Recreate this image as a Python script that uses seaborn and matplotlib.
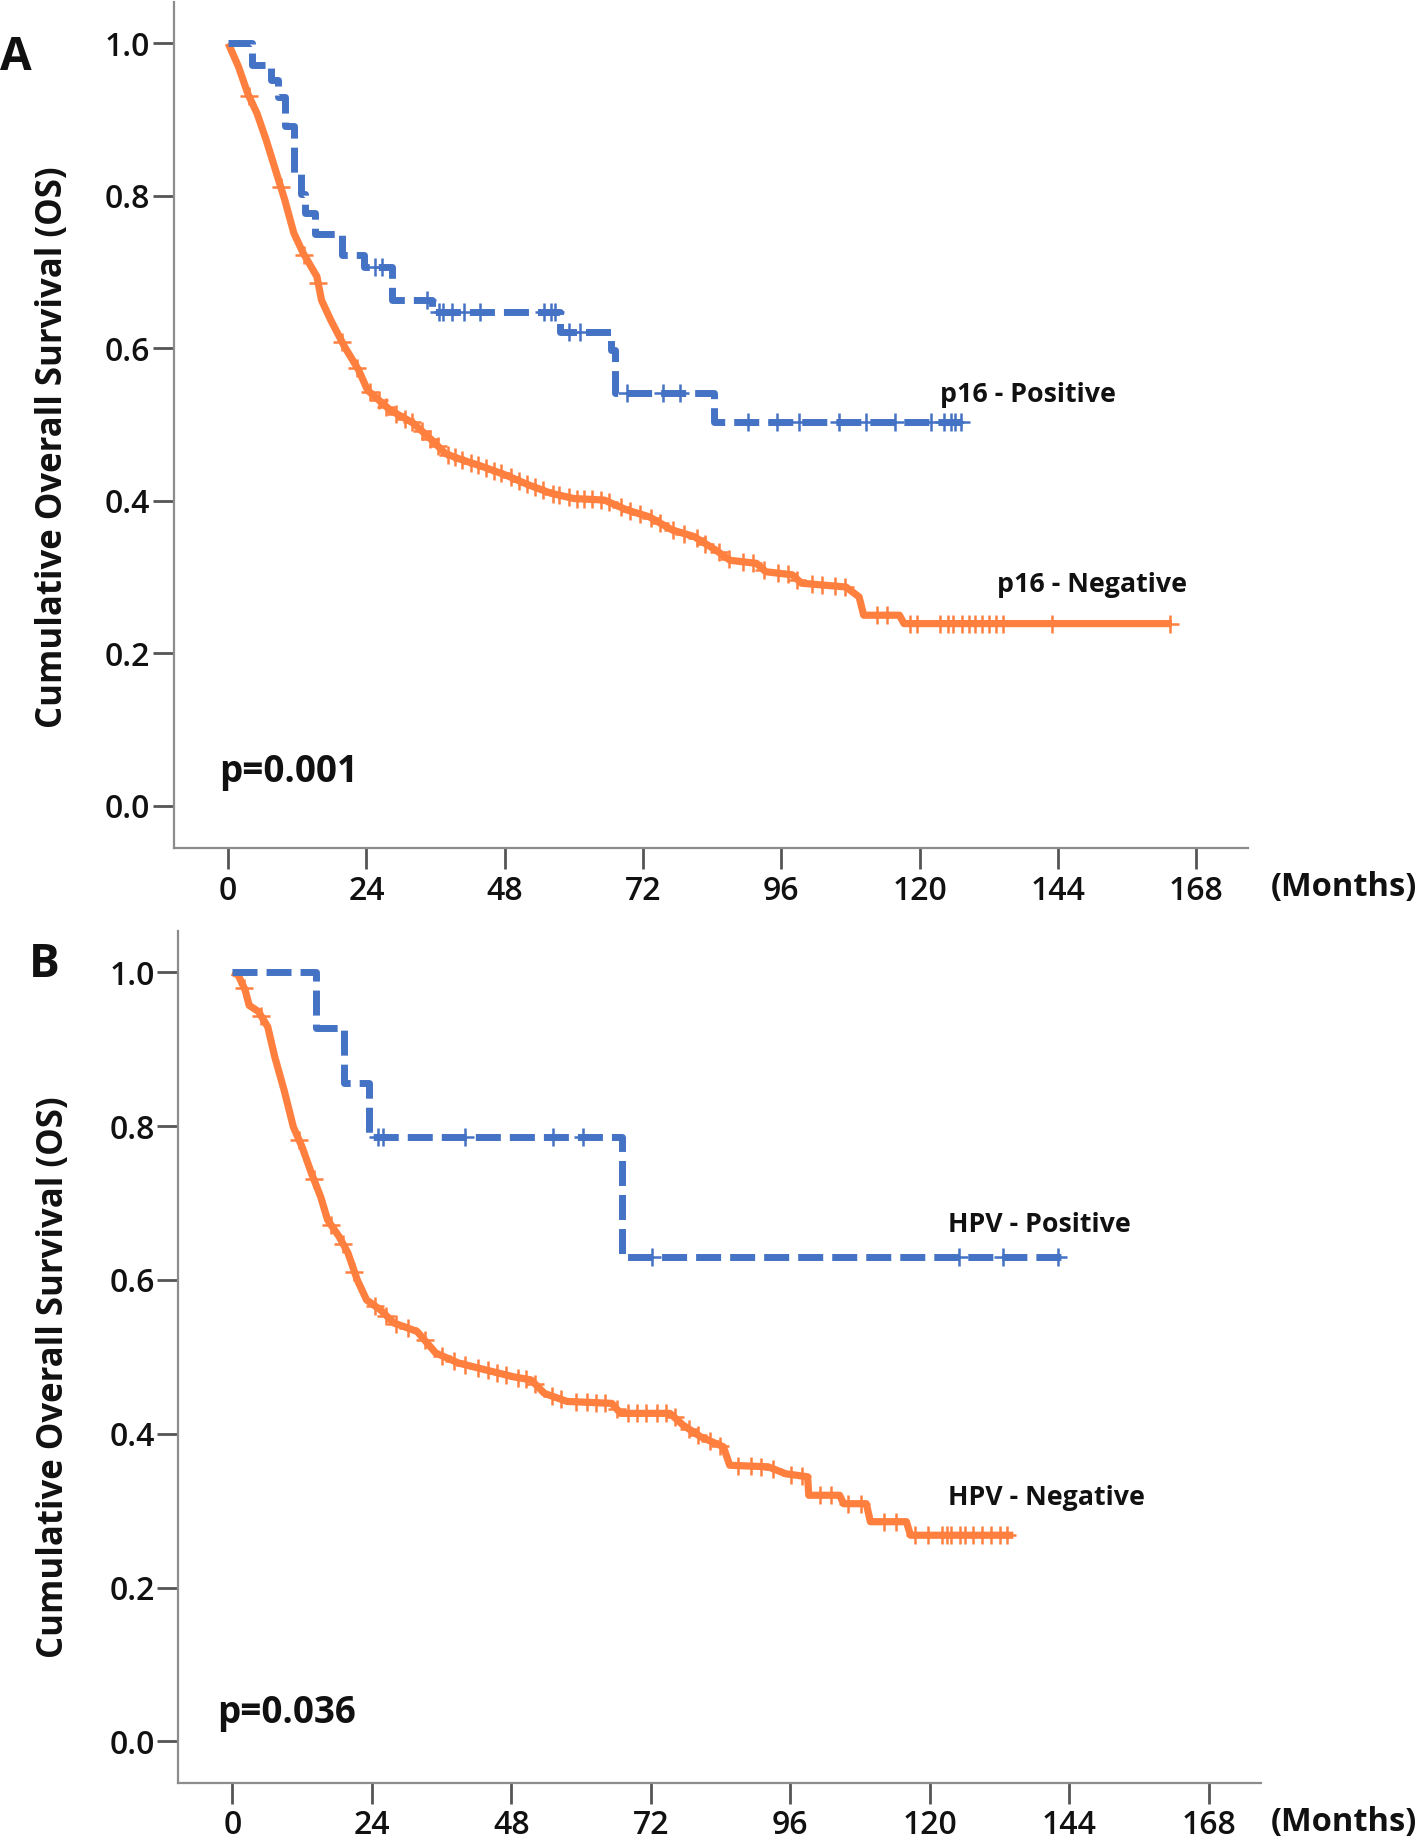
import numpy as np
import pandas as pd
import matplotlib
matplotlib.use("Agg")
import matplotlib.pyplot as plt
import seaborn as sns

# ---------------- data ----------------
months_ticks = [0, 24, 48, 72, 96, 120, 144, 168]
surv_ticks = [0.0, 0.2, 0.4, 0.6, 0.8, 1.0]

# Panel A: p16
p16_pos_t = [0, 4.1, 7.4, 8.6, 9.8, 11.4, 12.6, 13.4, 15.0, 19.8, 23.5, 28.5, 35.3, 57.6, 66.4, 67.2, 84.3, 127.4]
p16_pos_s = [1.0, 0.972, 0.952, 0.930, 0.891, 0.830, 0.803, 0.777, 0.750, 0.722, 0.707, 0.664, 0.647, 0.622, 0.598, 0.541, 0.503, 0.503]
p16_pos_cens = [25.5, 26.7, 34.5, 36.5, 37.3, 38.9, 40.9, 43.7, 54.8, 56.0, 56.8, 59.2, 61.1,
                69.2, 75.4, 78.5, 90.2, 95.2, 99.1, 106.1, 110.7, 115.7, 121.9, 124.2, 125.4, 126.2, 127.2]

p16_neg_t = [0, 1.8, 3.4, 5.0, 6.6, 8.2, 9.8, 11.4, 13.0, 15.4, 16.2, 17.8, 20.2, 22.6, 24.2, 28.1, 32.1,
             35.3, 37.7, 40.1, 44.1, 48.1, 52.1, 56.0, 60.0, 65.3, 69.2, 73.1, 77.0, 80.9, 84.7, 87.1,
             91.7, 93.3, 97.9, 99.5, 107.2, 109.5, 110.3, 116.5, 117.3, 163.8]
p16_neg_s = [1.0, 0.969, 0.934, 0.908, 0.873, 0.834, 0.795, 0.751, 0.725, 0.694, 0.663, 0.637, 0.602, 0.572,
             0.545, 0.519, 0.502, 0.480, 0.462, 0.455, 0.445, 0.434, 0.421, 0.410, 0.403, 0.401, 0.388,
             0.379, 0.362, 0.353, 0.335, 0.322, 0.318, 0.307, 0.303, 0.292, 0.287, 0.274, 0.250, 0.250,
             0.239, 0.239]
p16_neg_cens = [3.6, 9.1, 13.2, 15.6, 19.8, 22.4, 24.6, 26.1, 27.4, 29.2, 30.7, 31.9, 33.6, 35.1, 36.4,
                38.2, 39.3, 40.6, 42.1, 43.4, 44.8, 46.2, 47.3, 49.1, 50.4, 51.8, 53.2, 54.7, 56.3, 57.4,
                59.1, 60.6, 61.8, 63.2, 64.7, 66.1, 68.2, 69.8, 71.4, 73.3, 74.9, 77.2, 79.1, 81.3,
                82.8, 85.2, 86.9, 89.3, 91.1, 93.0, 95.4, 97.2, 98.8, 101.3, 103.1, 105.4, 107.0,
                112.6, 114.3, 118.4, 119.6, 123.5, 125.0, 125.8, 127.4, 128.5, 129.7, 130.9, 132.0,
                133.2, 134.4, 142.9, 163.4]

# Panel B: HPV
hpv_pos_t = [0, 14.4, 19.2, 23.5, 67.0, 143.6]
hpv_pos_s = [1.0, 0.927, 0.856, 0.786, 0.630, 0.630]
hpv_pos_cens = [25.1, 25.9, 40.1, 55.1, 60.3, 72.2, 125.0, 132.7, 142.1]

hpv_neg_t = [0, 1.0, 2.2, 2.9, 4.5, 6.1, 7.3, 8.9, 10.5, 12.0, 13.6, 15.2, 16.4, 18.4, 19.9, 21.5, 23.1,
             25.5, 27.8, 31.8, 35.0, 38.9, 43.6, 48.4, 51.4, 53.7, 57.6, 65.3, 66.8, 75.3, 77.6, 80.6,
             84.5, 85.6, 92.2, 95.2, 99.0, 99.2, 104.5, 105.2, 109.1, 109.8, 116.0, 116.7, 134.4]
hpv_neg_s = [1.0, 0.9965, 0.977, 0.957, 0.949, 0.929, 0.890, 0.847, 0.799, 0.773, 0.739, 0.708, 0.678,
             0.656, 0.635, 0.600, 0.574, 0.561, 0.544, 0.533, 0.505, 0.492, 0.483, 0.474, 0.470, 0.4525,
             0.442, 0.4395, 0.4265, 0.4265, 0.411, 0.396, 0.383, 0.359, 0.357, 0.348, 0.344, 0.320,
             0.320, 0.309, 0.309, 0.2856, 0.2856, 0.268, 0.268]
hpv_neg_cens = [2.0, 5.0, 11.5, 14.0, 17.0, 19.1, 21.0, 24.5, 26.5, 28.1, 30.2, 33.1, 36.0, 38.2, 40.1,
                42.3, 44.0, 45.6, 47.1, 49.2, 50.6, 52.1, 55.0, 56.6, 59.1, 61.0, 62.6, 64.1, 66.2,
                68.1, 69.6, 71.2, 73.1, 74.6, 76.1, 78.6, 80.1, 82.2, 84.0, 87.1, 89.2, 91.0, 93.1,
                96.2, 98.1, 101.2, 103.1, 106.0, 108.2, 112.1, 114.2, 117.5, 119.8, 122.1, 122.9,
                123.7, 125.2, 126.0, 127.5, 129.0, 130.6, 132.1, 133.3]

BLUE = "#4472C4"
ORANGE = "#FF7F3F"

# ---------------- style ----------------
sns.set_style("ticks")
plt.rcParams['font.family'] = ['Open Sans', 'DejaVu Sans']

fig = plt.figure(figsize=(14.18, 18.41), dpi=100)
axA = fig.add_axes([0.1225, 0.5392, 0.7576, 0.4599])
axB = fig.add_axes([0.1257, 0.03167, 0.7639, 0.4626])


def step_at(times, surv, c):
    idx = np.searchsorted(np.asarray(times), np.asarray(c), side="right") - 1
    return np.asarray(surv)[idx]


def panel(ax, pt, ps, pc, nt, ns, nc, lab_pos, lab_neg, pos_xy, neg_xy, ptxt, ptxt_xy,
          xlim, ylim, ylab_xy):
    dpos = pd.DataFrame({"t": pt, "s": ps})
    dneg = pd.DataFrame({"t": nt, "s": ns})
    sns.lineplot(data=dneg, x="t", y="s", ax=ax, color=ORANGE, lw=5.2, sort=False,
                 estimator=None, solid_capstyle="butt", zorder=3)
    sns.lineplot(data=dpos, x="t", y="s", ax=ax, color=BLUE, lw=5.0, sort=False,
                 estimator=None, drawstyle="steps-post", linestyle=(0, (3.6, 1.3)),
                 dash_capstyle="butt", zorder=4)
    ncy = np.interp(nc, nt, ns)
    pcy = step_at(pt, ps, pc)
    sns.scatterplot(x=nc, y=ncy, ax=ax, marker="+", s=160, color=ORANGE, linewidth=1.8, zorder=3)
    sns.scatterplot(x=pc, y=pcy, ax=ax, marker="+", s=160, color=BLUE, linewidth=1.8, zorder=4)

    ax.set_xlim(*xlim)
    ax.set_ylim(*ylim)
    ax.set_xticks(months_ticks)
    ax.set_xticklabels([str(m) for m in months_ticks], fontweight="semibold")
    ax.set_yticks(surv_ticks)
    ax.set_yticklabels([f"{v:.1f}" for v in surv_ticks], fontweight="semibold")
    ax.tick_params(axis="both", length=15, width=2, color="#555555", labelsize=23,
                   labelcolor="#111111")
    ax.tick_params(axis="y", pad=2)
    ax.tick_params(axis="x", pad=4)
    sns.despine(ax=ax)
    for sp in ("left", "bottom"):
        ax.spines[sp].set_color("#8c8c8c")
        ax.spines[sp].set_linewidth(1.6)
    ax.set_xlabel("")
    ax.set_ylabel("Cumulative Overall Survival (OS)", fontsize=25, fontweight="bold",
                  va="center", color="#111111")
    ax.yaxis.set_label_coords(*ylab_xy)

    ax.text(pos_xy[0], pos_xy[1], lab_pos, fontsize=19.3, fontweight="bold", va="center",
            ha="left", color="#111111")
    ax.text(neg_xy[0], neg_xy[1], lab_neg, fontsize=19.3, fontweight="bold", va="center",
            ha="left", color="#111111")
    ax.text(ptxt_xy[0], ptxt_xy[1], ptxt, fontsize=26.5, fontweight="bold", va="center",
            ha="left", color="#111111")


panel(axA, p16_pos_t, p16_pos_s, p16_pos_cens, p16_neg_t, p16_neg_s, p16_neg_cens,
      "p16 - Positive", "p16 - Negative", (123.5, 0.539), (133.4, 0.29),
      "p=0.001", (-1.5, 0.045), (-9.46, 177.0), (-0.0557, 1.0546), (-0.112, 0.474))
panel(axB, hpv_pos_t, hpv_pos_s, hpv_pos_cens, hpv_neg_t, hpv_neg_s, hpv_neg_cens,
      "HPV - Positive", "HPV - Negative", (123.2, 0.671), (123.2, 0.316),
      "p=0.036", (-2.65, 0.037), (-9.31, 177.1), (-0.0538, 1.0537), (-0.115, 0.476))

fig.text(0.0, 0.962, "A", fontsize=33, fontweight="bold", ha="left", va="baseline", color="#111111")
fig.text(0.0205, 0.4693, "B", fontsize=33, fontweight="bold", ha="left", va="baseline", color="#111111")
fig.text(0.9995, 0.5179, "(Months)", fontsize=23.5, fontweight="bold", ha="right", va="center", color="#111111")
fig.text(0.9995, 0.0098, "(Months)", fontsize=23.5, fontweight="bold", ha="right", va="center", color="#111111")

fig.savefig("out.png", dpi=100)
